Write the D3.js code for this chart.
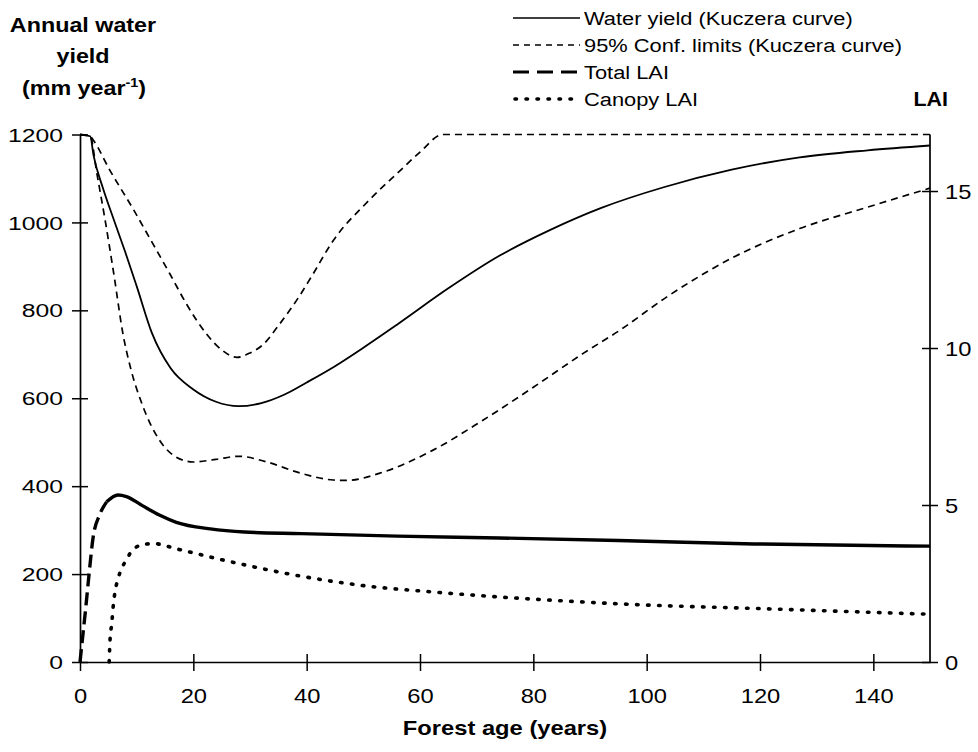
<!DOCTYPE html>
<html><head><meta charset="utf-8">
<script src="https://cdn.jsdelivr.net/npm/d3@7"></script>
<style>body{margin:0;background:#fff}</style>
</head><body>
<svg id="c" width="978" height="752"></svg>
<script>
// ---- data ----
const ageTicks = [0,20,40,60,80,100,120,140];
const yieldTicks = [0,200,400,600,800,1000,1200];
const laiTicks = [0,5,10,15];

const yieldAge = [0,1.8,2.4,4,6,8,10,12.7,16,20,24,28,32,36,40,45,50,56,65,74,83,92,103,115,127,139,150];
const yieldVal = [1200,1196,1152,1080,1005,932,855,748,668,620,592,582,589,608,636,673,715,768,850,924,983,1033,1080,1120,1148,1164,1175];

const upperAge = [0,1.8,2.3,5.3,9.4,12.4,15.9,18.9,22.4,25,27.7,30,32.3,35,38.8,41,44.7,50.6,56.5,60,64,150];
const upperVal = [1200,1196,1188,1118,1030,962,882,812,745,710,693,703,722,765,834,880,959,1045,1118,1160,1200,1200];

const lowerAge = [0,1.8,3,4.5,6,7.6,9,11,14,17,20,24,28,33,38.8,44.7,47,53.5,62.3,71.1,80,88.8,95.3,103.5,115.2,127,138.8,150];
const lowerVal = [1200,1196,1110,1000,880,745,665,585,505,466,455,461,468,455,430,414,413,432,482,550,625,702,755,830,920,986,1034,1078];

const totalAge = [0,0.5,1,1.6,2.3,3.5,4.7,6.7,8.2,11,14,17,23,29,39,56,74,95,119,150];
const totalLai = [0,0.85,1.7,2.8,3.95,4.7,5.1,5.32,5.27,4.98,4.68,4.45,4.24,4.14,4.09,4.01,3.95,3.87,3.76,3.69];

const canopyAge = [5.15,5.3,5.6,5.9,6.2,6.6,7.4,8.2,9.4,11.8,13,17.1,25.9,38.8,50.6,62.3,74.1,85.9,95.3,121.8,150];
const canopyLai = [0,0.7,1.22,1.85,2.26,2.58,3.0,3.25,3.6,3.76,3.77,3.6,3.22,2.74,2.42,2.23,2.07,1.94,1.85,1.69,1.52];

const legendLabels = ["Water yield (Kuczera curve)","95% Conf. limits (Kuczera curve)","Total LAI","Canopy LAI"];

// ---- drawing ----
const svg = d3.select("#c");
const FONT = "'Liberation Sans', Arial, Helvetica, sans-serif";
const x = d3.scaleLinear([0,150],[80,930]);
const y = d3.scaleLinear([0,1200],[662,134.5]);
const yR = d3.scaleLinear([0,16.8],[662,134.5]);

const zip = (a,b) => a.map((v,i)=>[v,b[i]]);
const lineL = d3.line().x(d=>x(d[0])).y(d=>y(d[1])).curve(d3.curveMonotoneX);
const lineR = d3.line().x(d=>x(d[0])).y(d=>yR(d[1])).curve(d3.curveMonotoneX);

function txt(px, py, str, o){
  const g = svg.append("g").attr("transform",`translate(${px},${py}) scale(${o.sx||1},1)`);
  const t = g.append("text").attr("font-family",FONT).attr("font-size",o.size)
    .attr("font-weight",o.weight||"normal").attr("text-anchor",o.anchor||"start").attr("fill","#000");
  if (str !== null) t.text(str);
  return t;
}

// axes
function styleAxis(g){
  g.attr("font-family",null).attr("font-size",null);
  g.select(".domain").attr("stroke","#000").attr("stroke-width",1.7);
  g.selectAll(".tick line").attr("stroke","#000").attr("stroke-width",1.5);
}
const sxL = 1.3, sxB = 1.13;
const gL = svg.append("g").attr("transform","translate(80,0)")
  .call(d3.axisLeft(y).tickValues(yieldTicks).tickFormat(d3.format("d")).tickSize(8).tickSizeOuter(0));
styleAxis(gL);
gL.selectAll(".tick line").attr("x1",8);
gL.selectAll(".tick text").attr("font-family",FONT).attr("font-size",19).attr("fill","#000")
  .attr("x",-17/sxL).attr("dy","0.35em").attr("transform",`scale(${sxL},1)`);

const gR = svg.append("g").attr("transform","translate(930,0)")
  .call(d3.axisRight(yR).tickValues(laiTicks).tickFormat(d3.format("d")).tickSize(8).tickSizeOuter(0));
styleAxis(gR);
gR.select(".domain").attr("d","M0,662V134.5");
gR.selectAll(".tick line").attr("x1",-8);
gR.selectAll(".tick text").attr("font-family",FONT).attr("font-size",21).attr("fill","#000")
  .attr("x",15/sxB).attr("dy","0.35em").attr("transform",`scale(${sxB},1)`);

const gB = svg.append("g").attr("transform","translate(0,662)")
  .call(d3.axisBottom(x).tickValues(ageTicks).tickFormat(d3.format("d")).tickSize(9).tickSizeOuter(0));
styleAxis(gB);
gB.selectAll(".tick line").attr("y1",-8);
gB.selectAll(".tick text").attr("font-family",FONT).attr("font-size",21).attr("fill","#000")
  .attr("y",41).attr("dy",0).attr("transform",`scale(${sxB},1)`);

// curves
const plot = svg.append("g").attr("fill","none").attr("stroke","#000");
plot.append("path").attr("d",lineL(zip(upperAge,upperVal))).attr("stroke-width",1.7).attr("stroke-dasharray","7,5");
plot.append("path").attr("d",lineL(zip(lowerAge,lowerVal))).attr("stroke-width",1.7).attr("stroke-dasharray","7,5");
plot.append("path").attr("d",lineL(zip(yieldAge,yieldVal))).attr("stroke-width",1.8);

const tot = zip(totalAge,totalLai);
const split = totalAge.indexOf(4.7);
plot.append("path").attr("d",lineR(tot.slice(0,split+1))).attr("stroke-width",3.4).attr("stroke-dasharray","13,6");
plot.append("path").attr("d",lineR(tot.slice(split))).attr("stroke-width",3.4);
plot.append("path").attr("d",lineR(zip(canopyAge,canopyLai))).attr("stroke-width",3.6)
  .attr("stroke-linecap","round").attr("stroke-dasharray","1.5,9.5");

// legend
const legDash = [null,"6,5","16,8","1.5,9.5"];
const legW = [1.6,1.6,3.2,3.6];
const legY = [25,52,79,106];
legendLabels.forEach((lab,i)=>{
  const ly = legY[i]-7;
  const l = svg.append("line").attr("x1",513).attr("x2",580).attr("y1",ly).attr("y2",ly)
    .attr("stroke","#000").attr("stroke-width",legW[i]);
  if (legDash[i]) l.attr("stroke-dasharray",legDash[i]);
  if (i===3) l.attr("stroke-linecap","round").attr("x1",515);
  txt(584, legY[i], lab, {size:19, sx:1.15});
});

// titles
txt(83, 32, "Annual water", {size:21, weight:"bold", anchor:"middle", sx:1.11});
txt(83, 63, "yield", {size:21, weight:"bold", anchor:"middle", sx:1.11});
const t3 = txt(84, 95, null, {size:21, weight:"bold", anchor:"middle", sx:1.11});
t3.append("tspan").text("(mm year");
t3.append("tspan").attr("font-size",13).attr("dy",-8).text("-1");
t3.append("tspan").attr("dy",8).text(")");
txt(948, 106, "LAI", {size:21, weight:"bold", anchor:"end", sx:1.02});
txt(505, 735, "Forest age (years)", {size:21, weight:"bold", anchor:"middle", sx:1.13});
</script>
</body></html>
